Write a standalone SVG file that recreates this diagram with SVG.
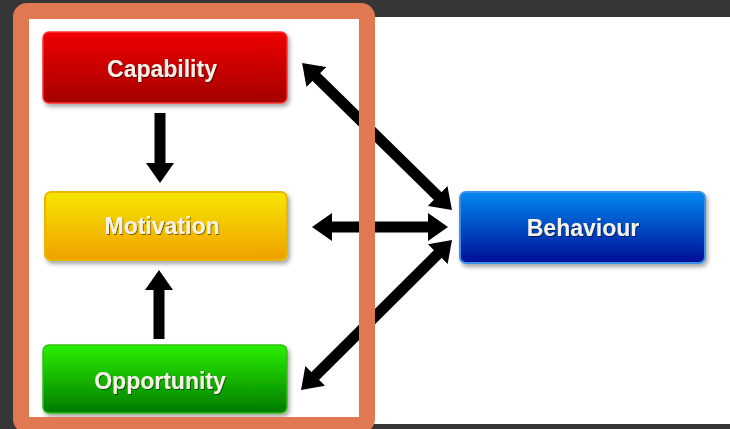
<svg xmlns="http://www.w3.org/2000/svg" width="730" height="429" viewBox="0 0 730 429">
<style>
.lbl{font-family:"Liberation Sans","Arial",sans-serif;font-weight:bold;font-size:23px;fill:#f6f2ea;text-anchor:middle}
.conn line{stroke:#000;stroke-width:11;fill:none}
</style>
<defs>
<linearGradient id="gRed" x1="0" y1="0" x2="0" y2="1"><stop offset="0" stop-color="#f00000"/><stop offset="1" stop-color="#a40000"/></linearGradient>
<linearGradient id="gYel" x1="0" y1="0" x2="0" y2="1"><stop offset="0" stop-color="#f7e600"/><stop offset="1" stop-color="#f0a000"/></linearGradient>
<linearGradient id="gGrn" x1="0" y1="0" x2="0" y2="1"><stop offset="0" stop-color="#2af000"/><stop offset="1" stop-color="#007a00"/></linearGradient>
<linearGradient id="gBlu" x1="0" y1="0" x2="0" y2="1"><stop offset="0" stop-color="#0088f0"/><stop offset="1" stop-color="#000e96"/></linearGradient>
<filter id="sh" x="-10%" y="-10%" width="125%" height="140%"><feDropShadow dx="2" dy="3" stdDeviation="2" flood-color="#000" flood-opacity="0.35"/></filter>
<filter id="tsh"><feDropShadow dx="1" dy="1" stdDeviation="0.6" flood-color="#000" flood-opacity="0.5"/></filter>
<marker id="ah" markerUnits="userSpaceOnUse" markerWidth="20" markerHeight="28" viewBox="0 0 20 28" refX="2" refY="14" orient="auto-start-reverse"><path d="M0,0 L20,14 L0,28 z" fill="#000"/></marker>
</defs>
<rect x="0" y="0" width="730" height="429" fill="#363636"/>
<rect x="14" y="17" width="716" height="407" fill="#ffffff"/>
<g id="connectors" class="conn">
<line x1="160" y1="113" x2="160" y2="165" marker-end="url(#ah)"/>
<line x1="159" y1="339" x2="159" y2="288" marker-end="url(#ah)"/>
<line x1="330" y1="227" x2="430" y2="227" marker-start="url(#ah)" marker-end="url(#ah)"/>
<line x1="314.9" y1="75.6" x2="439.1" y2="197.4" marker-start="url(#ah)" marker-end="url(#ah)"/>
<line x1="439.2" y1="252.7" x2="313.8" y2="377.3" marker-start="url(#ah)" marker-end="url(#ah)"/>
</g>
<g id="capability"><rect x="43" y="32" width="244" height="71" rx="6" fill="url(#gRed)" stroke="#ff3030" stroke-width="1.5" filter="url(#sh)"/><text class="lbl" x="162" y="77" filter="url(#tsh)">Capability</text></g>
<g id="motivation"><rect x="45" y="192" width="242" height="68" rx="6" fill="url(#gYel)" stroke="#e8b800" stroke-width="2" filter="url(#sh)"/><text class="lbl" x="162" y="234" filter="url(#tsh)">Motivation</text></g>
<g id="opportunity"><rect x="43" y="345" width="244" height="68" rx="6" fill="url(#gGrn)" stroke="#30c010" stroke-width="1.5" filter="url(#sh)"/><text class="lbl" x="160" y="389" filter="url(#tsh)">Opportunity</text></g>
<g id="behaviour"><rect x="460" y="192" width="245" height="71" rx="6" fill="url(#gBlu)" stroke="#3a90e8" stroke-width="2" filter="url(#sh)"/><text class="lbl" x="583" y="236" filter="url(#tsh)">Behaviour</text></g>
<rect id="frame" x="21" y="11" width="346" height="414" rx="6" fill="none" stroke="#e07852" stroke-width="16"/>
</svg>
